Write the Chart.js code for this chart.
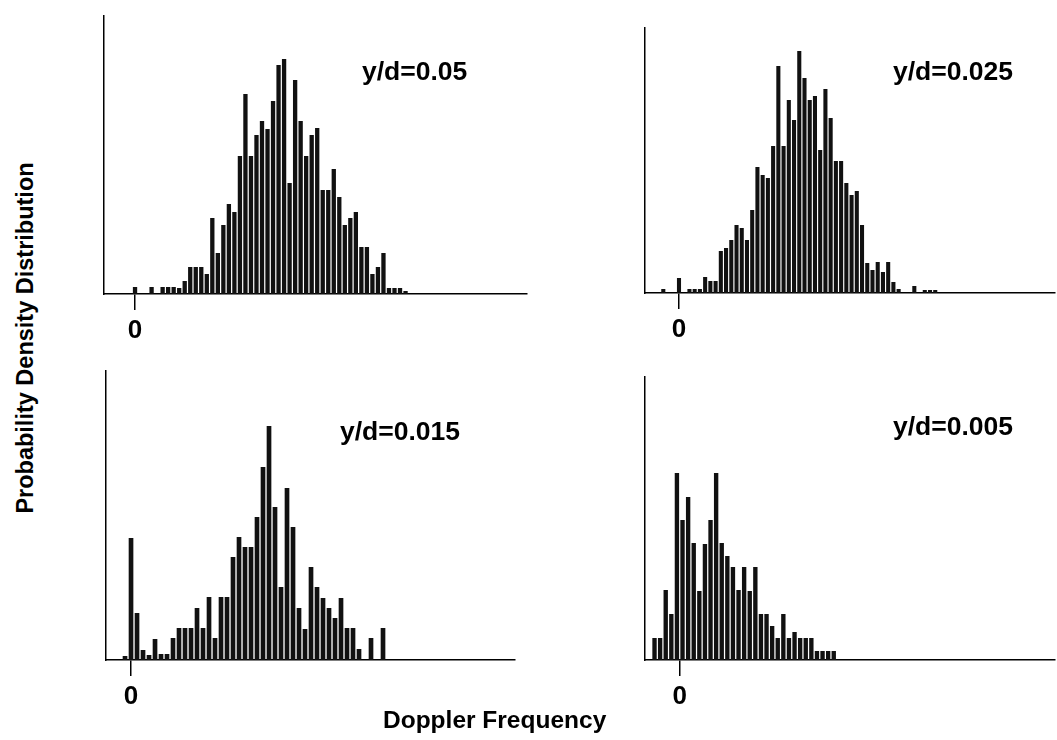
<!DOCTYPE html>
<html><head><meta charset="utf-8">
<script src="https://cdn.jsdelivr.net/npm/chart.js@4.4.1/dist/chart.umd.min.js"></script>
<style>
html,body{margin:0;padding:0;background:#fff;width:1057px;height:740px;overflow:hidden;font-family:"Liberation Sans",Arial,sans-serif;}
canvas{position:absolute;}
.lbl{position:absolute;font-weight:bold;font-size:26.5px;line-height:26px;color:#000;white-space:nowrap;}
.ttl{position:absolute;font-weight:bold;font-size:24.5px;line-height:24px;color:#000;white-space:nowrap;}
</style></head><body>
<canvas id="c1" width="428" height="339" style="left:101px;top:15px"></canvas>
<canvas id="c2" width="415" height="326" style="left:642px;top:27px"></canvas>
<canvas id="c3" width="414" height="350" style="left:103px;top:370px"></canvas>
<canvas id="c4" width="415" height="344" style="left:642px;top:376px"></canvas>
<div class="lbl" style="left:362px;top:58px">y/d=0.05</div>
<div class="lbl" style="left:893px;top:58px">y/d=0.025</div>
<div class="lbl" style="left:340px;top:418px">y/d=0.015</div>
<div class="lbl" style="left:893px;top:413px">y/d=0.005</div>
<div class="ttl" style="left:383px;top:708px">Doppler Frequency</div>
<div class="ttl" style="left:25px;top:338px;font-size:23.5px;transform:translate(-50%,-50%) rotate(-90deg);">Probability Density Distribution</div>
<script>
// Panel 1: y/d = 0.05
const bins1 = [0,3,5,6,7,8,9,10,11,12,13,14,15,16,17,18,19,20,21,22,23,24,25,26,27,28,29,30,31,32,33,34,35,36,37,38,39,40,41,42,43,44,45,46,47,48,49];
const values1 = [7,7,7,7,7,6,13,27,27,27,20,76,41,69,90,82,138,200,138,159,173,165,193,229,235,111,214,173,138,159,166,104,104,125,97,69,76,82,47,47,20,27,41,6,6,6,3];
// Panel 2: y/d = 0.025
const bins2 = [-3,0,2,3,4,5,6,7,8,9,10,11,12,13,14,15,16,17,18,19,20,21,22,23,24,25,26,27,28,29,30,31,32,33,34,35,36,37,38,39,40,41,42,45,47,48,49];
const values2 = [4,15,4,4,4,16,12,12,42,45,53,68,65,53,83,126,118,115,147,227,147,193,173,242,215,193,197,143,204,175,132,132,110,98,102,68,30,23,31,21,31,11,4,7,3,3,3];
// Panel 3: y/d = 0.015
const bins3 = [-1,0,1,2,3,4,5,6,7,8,9,10,11,12,13,14,15,16,17,18,19,20,21,22,23,24,25,26,27,28,29,30,31,32,33,34,35,36,37,38,40,42];
const values3 = [4,122,47,10,5,21,6,6,22,32,32,32,52,32,63,22,63,63,103,123,113,113,143,193,234,153,73,172,133,52,31,93,73,62,52,42,62,32,32,11,22,32];
// Panel 4: y/d = 0.005
const bins4 = [-4.5,-3.5,-2.5,-1.5,-0.5,0.5,1.5,2.5,3.5,4.5,5.5,6.5,7.5,8.5,9.5,10.5,11.5,12.5,13.5,14.5,15.5,16.5,17.5,18.5,19.5,20.5,21.5,22.5,23.5,24.5,25.5,26.5,27.5];
const values4 = [22,22,70,46,187,140,163,117,69,116,140,187,117,104,93,70,93,69,93,46,46,34,22,46,22,28,22,22,22,9,9,9,9];
const xTicks = [0];

function makeChart(id, bins, values, xMin, xMax, yMax) {
  return new Chart(document.getElementById(id), {
    type: 'bar',
    data: { datasets: [{
      data: bins.map((b, i) => ({ x: b, y: values[i] })),
      backgroundColor: '#111', borderWidth: 0,
      barPercentage: 0.78, categoryPercentage: 1
    }] },
    options: {
      responsive: false, animation: false, events: [],
      layout: { padding: { left: 3, right: 2, top: 0, bottom: 0 } },
      plugins: { legend: { display: false }, tooltip: { enabled: false } },
      scales: {
        x: {
          type: 'linear', min: xMin, max: xMax, offset: false,
          afterBuildTicks: a => { a.ticks = xTicks.map(v => ({ value: v })); },
          afterFit: s => { s.height = 60; },
          grid: { display: true, offset: false, drawOnChartArea: false, drawTicks: true, tickLength: 16, color: '#000', lineWidth: 1.5 },
          border: { display: true, color: '#000', width: 1.5 },
          ticks: { color: '#000', font: { size: 26, weight: 'bold', family: 'Liberation Sans' }, padding: 5, maxRotation: 0, autoSkip: false, callback: v => String(v) }
        },
        y: {
          min: 0, max: yMax,
          afterFit: s => { s.width = 0; },
          grid: { display: false }, ticks: { display: false },
          border: { display: true, color: '#000', width: 1.5 }
        }
      }
    }
  });
}
makeChart('c1', bins1, values1, -5.62, 71.0, 279);
makeChart('c2', bins2, values2, -6.5, 71.9, 266);
makeChart('c3', bins3, values3, -4.17, 64, 290);
makeChart('c4', bins4, values4, -6.2, 67.0, 284);
</script>
</body></html>
